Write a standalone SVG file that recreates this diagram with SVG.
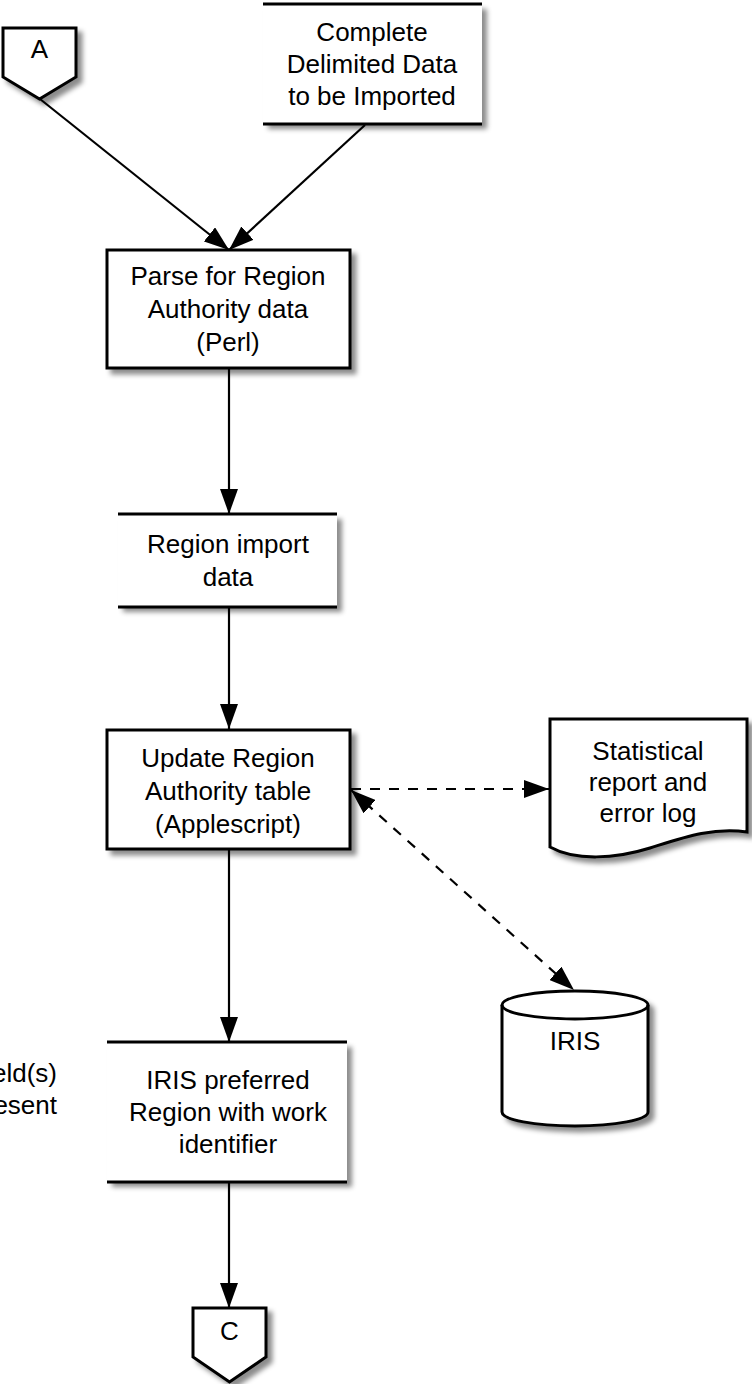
<svg xmlns="http://www.w3.org/2000/svg" width="752" height="1384" viewBox="0 0 752 1384">
<style>
  text { font-family: "Liberation Sans", Arial, Helvetica, sans-serif; font-size: 26px; fill: #000; text-anchor: middle; }
  .shape { fill: #fff; stroke: #000; stroke-width: 3; }
  .bg { fill: #fff; stroke: none; }
  .edge { fill: none; stroke: #000; stroke-width: 3; }
  .conn { fill: none; stroke: #000; stroke-width: 2.2; }
  .dash { stroke-dasharray: 10 9; }
</style>
<defs>
  <filter id="sh" x="-10%" y="-10%" width="130%" height="130%">
    <feDropShadow dx="5" dy="5" stdDeviation="2.5" flood-color="#000" flood-opacity="0.45"/>
  </filter>
  <marker id="ah" markerUnits="userSpaceOnUse" markerWidth="26" markerHeight="18" refX="25" refY="9" orient="auto-start-reverse">
    <path d="M0,0 L25,9 L0,18 z" fill="#000"/>
  </marker>
</defs>

<g id="connectors">
  <line class="conn" x1="40" y1="99" x2="229" y2="250" marker-end="url(#ah)"/>
  <line class="conn" x1="365" y1="125" x2="229" y2="250" marker-end="url(#ah)"/>
  <line class="conn" x1="229" y1="368" x2="229" y2="514" marker-end="url(#ah)"/>
  <line class="conn" x1="229" y1="607" x2="229" y2="729" marker-end="url(#ah)"/>
  <line class="conn" x1="229" y1="849" x2="229" y2="1042" marker-end="url(#ah)"/>
  <line class="conn" x1="229" y1="1182" x2="229" y2="1308" marker-end="url(#ah)"/>
  <line class="conn dash" x1="351" y1="789" x2="549" y2="789" marker-end="url(#ah)"/>
  <line class="conn dash" x1="351" y1="790" x2="574" y2="990" marker-start="url(#ah)" marker-end="url(#ah)"/>
</g>

<g id="nodeA">
  <polygon class="shape" filter="url(#sh)" points="3,28 76,28 76,77 39.5,99 3,77"/>
  <text x="39.5" y="58">A</text>
</g>

<g id="complete">
  <rect class="bg" filter="url(#sh)" x="263" y="4" width="219" height="120"/>
  <line class="edge" x1="263" y1="4" x2="482" y2="4"/>
  <line class="edge" x1="263" y1="124" x2="482" y2="124"/>
  <text x="372" y="41">Complete</text>
  <text x="372" y="73">Delimited Data</text>
  <text x="372" y="105">to be Imported</text>
</g>

<g id="parse">
  <rect class="shape" filter="url(#sh)" x="107" y="250" width="243" height="118"/>
  <text x="228" y="285">Parse for Region</text>
  <text x="228" y="318">Authority data</text>
  <text x="228" y="351">(Perl)</text>
</g>

<g id="regionImport">
  <rect class="bg" filter="url(#sh)" x="118" y="514" width="219" height="93"/>
  <line class="edge" x1="118" y1="514" x2="337" y2="514"/>
  <line class="edge" x1="118" y1="607" x2="337" y2="607"/>
  <text x="228" y="553">Region import</text>
  <text x="228" y="586">data</text>
</g>

<g id="update">
  <rect class="shape" filter="url(#sh)" x="107" y="730" width="243" height="119"/>
  <text x="228" y="767">Update Region</text>
  <text x="228" y="800">Authority table</text>
  <text x="228" y="833">(Applescript)</text>
</g>

<g id="statReport">
  <path class="shape" filter="url(#sh)" d="M550,719 H747 V832 C712,827 682,838 650,848 C615,859 575,861 550,847 Z"/>
  <text x="648" y="760">Statistical</text>
  <text x="648" y="791">report and</text>
  <text x="648" y="822">error log</text>
</g>

<g id="iris">
  <path class="shape" filter="url(#sh)" d="M502,1005 A73,14 0 0 1 648,1005 V1112 A73,14 0 0 1 502,1112 Z"/>
  <path class="edge" d="M502,1005 A73,14 0 0 0 648,1005"/>
  <text x="575" y="1050">IRIS</text>
</g>

<g id="partialLabel">
  <text x="57" y="1082" style="text-anchor:end">eld(s)</text>
  <text x="57" y="1114" style="text-anchor:end">esent</text>
</g>

<g id="irisPreferred">
  <rect class="bg" filter="url(#sh)" x="107" y="1042" width="240" height="140"/>
  <line class="edge" x1="107" y1="1042" x2="347" y2="1042"/>
  <line class="edge" x1="107" y1="1182" x2="347" y2="1182"/>
  <text x="228" y="1089">IRIS preferred</text>
  <text x="228" y="1121">Region with work</text>
  <text x="228" y="1153">identifier</text>
</g>

<g id="nodeC">
  <polygon class="shape" filter="url(#sh)" points="193,1308 266,1308 266,1357 229.5,1382 193,1357"/>
  <text x="229.5" y="1340">C</text>
</g>
</svg>
